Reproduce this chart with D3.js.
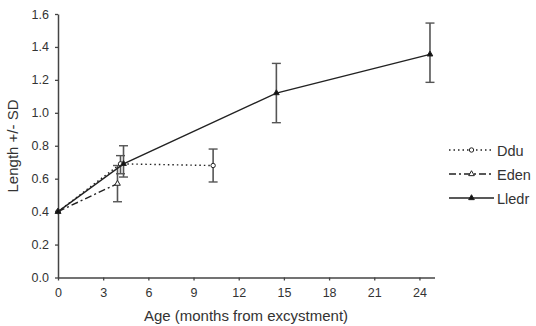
<!DOCTYPE html>
<html>
<head>
<meta charset="utf-8">
<script src="https://cdn.jsdelivr.net/npm/d3@7"></script>
<style>
  body { margin: 0; background: #fff; }
  svg { font-family: "Liberation Sans", Arial, sans-serif; }
</style>
</head>
<body>
<svg id="chart" width="536" height="326"></svg>
<script>
// data: [age, mean, sd-low, sd-high]
const dduData = [[0, 0.40, null, null], [4.15, 0.69, 0.63, 0.74], [10.3, 0.68, 0.58, 0.78]];
const edenData = [[0, 0.40, null, null], [3.95, 0.57, 0.46, 0.68]];
const lledrData = [[0, 0.40, null, null], [4.35, 0.69, 0.61, 0.80], [14.5, 1.12, 0.94, 1.30], [24.7, 1.355, 1.185, 1.545]];
const xTicks = [0, 3, 6, 9, 12, 15, 18, 21, 24];
const yTicks = [0, 0.2, 0.4, 0.6, 0.8, 1.0, 1.2, 1.4, 1.6];

const svg = d3.select("#chart");
const ink = "#333";

const x = d3.scaleLinear().domain([0, 25]).range([58, 434.5]);
const y = d3.scaleLinear().domain([0, 1.6]).range([277.5, 14]);

// axes
const xAxis = svg.append("g")
    .attr("transform", `translate(0, ${y(0)})`)
    .call(d3.axisBottom(x).tickValues(xTicks).tickSize(3).tickSizeOuter(0).tickPadding(8));
const yAxis = svg.append("g")
    .attr("transform", `translate(${x(0)}, 0)`)
    .call(d3.axisLeft(y).tickValues(yTicks).tickSize(3).tickSizeOuter(0).tickPadding(6).tickFormat(d3.format(".1f")));

[xAxis, yAxis].forEach(g => {
    g.select(".domain").attr("stroke", "#444").attr("stroke-width", 1.5);
    g.selectAll(".tick line").attr("stroke", "#444").attr("stroke-width", 1.3);
    g.selectAll("text").attr("fill", ink).attr("font-size", 12.5).attr("font-family", "Liberation Sans, Arial, sans-serif");
});

svg.append("text")
    .attr("x", 246).attr("y", 321)
    .attr("text-anchor", "middle")
    .attr("font-size", 15).attr("fill", ink)
    .text("Age (months from excystment)");

svg.append("text")
    .attr("transform", "translate(18, 146) rotate(-90)")
    .attr("text-anchor", "middle")
    .attr("font-size", 15).attr("fill", ink)
    .text("Length +/- SD");

const series = [
    { name: "Ddu", data: dduData, dash: "1.5,3", marker: "circle", fill: "#fff" },
    { name: "Eden", data: edenData, dash: "7,3,2,3", marker: "triangle", fill: "#fff" },
    { name: "Lledr", data: lledrData, dash: null, marker: "triangle", fill: "#111" }
];

const line = d3.line().x(d => x(d[0])).y(d => y(d[1]));

function drawMarker(g, s, cx, cy) {
    if (s.marker === "circle") {
        g.append("circle").attr("cx", cx).attr("cy", cy).attr("r", 2.2)
            .attr("fill", s.fill).attr("stroke", "#222").attr("stroke-width", 1);
    } else {
        g.append("path")
            .attr("d", d3.symbol().type(d3.symbolTriangle).size(14)())
            .attr("transform", `translate(${cx}, ${cy})`)
            .attr("fill", s.fill).attr("stroke", "#222").attr("stroke-width", 1);
    }
}

// error bars
series.forEach(s => {
    const g = svg.append("g");
    s.data.filter(d => d[2] !== null).forEach(d => {
        const cx = x(d[0]);
        g.append("line").attr("x1", cx).attr("x2", cx).attr("y1", y(d[2])).attr("y2", y(d[3]))
            .attr("stroke", "#555").attr("stroke-width", 1.6);
        [d[2], d[3]].forEach(v => {
            g.append("line").attr("x1", cx - 4.5).attr("x2", cx + 4.5).attr("y1", y(v)).attr("y2", y(v))
                .attr("stroke", "#555").attr("stroke-width", 1.4);
        });
    });
});

// lines and markers
series.forEach(s => {
    svg.append("path").datum(s.data)
        .attr("d", line)
        .attr("fill", "none")
        .attr("stroke", "#222")
        .attr("stroke-width", 1.4)
        .attr("stroke-dasharray", s.dash);
    const g = svg.append("g");
    s.data.forEach(d => drawMarker(g, s, x(d[0]), y(d[1])));
});

// legend
const legend = svg.append("g").attr("transform", "translate(449, 150)");
series.forEach((s, i) => {
    const item = legend.append("g").attr("transform", `translate(0, ${i * 24})`);
    item.append("line").attr("x1", 0).attr("x2", 45).attr("y1", 0).attr("y2", 0)
        .attr("stroke", "#222").attr("stroke-width", 1.4).attr("stroke-dasharray", s.dash);
    drawMarker(item, s, 22.5, 0);
    item.append("text").attr("x", 48).attr("y", 5.5)
        .attr("font-size", 14.5).attr("fill", ink).text(s.name);
});
</script>
</body>
</html>
